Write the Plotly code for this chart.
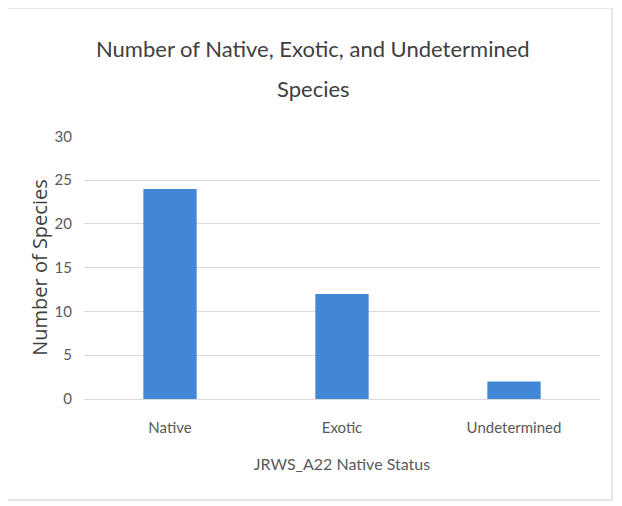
import plotly.graph_objects as go

categories = ["Native", "Exotic", "Undetermined"]
species_counts = [24, 12, 2]
y_ticks = [0, 5, 10, 15, 20, 25, 30]

FONT = "Lato, Liberation Sans, sans-serif"
GRAY = "#595959"

# the browser puts the page 8px in from the top-left corner
OFF = 8
W, H = 622 - OFF, 506 - OFF
ml, mr, mt, mb = 84 - OFF, 22, 136 - OFF, H - (399 - OFF)
pw, ph = W - ml - mr, H - mt - mb

def px_to_paper_x(px):
    return (px - OFF - ml) / pw

def px_to_paper_y(py):
    return (H - mb - (py - OFF)) / ph

fig = go.Figure(go.Bar(
    x=categories, y=species_counts,
    marker=dict(color="#4287d5", line=dict(width=0)),
    width=0.31,
))

fig.update_layout(
    width=W, height=H,
    margin=dict(l=ml, r=mr, t=mt, b=mb),
    paper_bgcolor="white", plot_bgcolor="white",
    showlegend=False,
    font=dict(family=FONT, color=GRAY),
    annotations=[
        dict(text="Number of Native, Exotic, and Undetermined", xref="paper", yref="paper",
             x=px_to_paper_x(313), y=px_to_paper_y(48),
             xanchor="center", yanchor="middle", showarrow=False,
             font=dict(size=22, color="#404040", family=FONT)),
        dict(text="Species", xref="paper", yref="paper",
             x=px_to_paper_x(313), y=px_to_paper_y(89),
             xanchor="center", yanchor="middle", showarrow=False,
             font=dict(size=22, color="#404040", family=FONT)),
    ],
    xaxis=dict(title=dict(text="JRWS_A22 Native Status", font=dict(size=16, color=GRAY), standoff=23),
               tickfont=dict(size=15, color=GRAY), showgrid=False, showline=False,
               ticks="", ticklen=0, ticklabelstandoff=18),
    yaxis=dict(title=dict(text="Number of Species",
                          font=dict(size=20, color="#404040", family="Open Sans, DejaVu Sans, sans-serif"),
                          standoff=1),
               range=[0, 30.05], tickvals=y_ticks, tickfont=dict(size=15, color=GRAY),
               showgrid=True, gridcolor="#d9d9d9", gridwidth=1, zeroline=True,
               zerolinecolor="#d9d9d9", zerolinewidth=1, showline=False, ticks="",
               ticklabelstandoff=11),
    shapes=[dict(type="rect", xref="paper", yref="paper",
                 x0=px_to_paper_x(5), x1=px_to_paper_x(612),
                 y0=px_to_paper_y(500), y1=px_to_paper_y(8),
                 line=dict(color="#d0d0d0", width=1), layer="below")],
)

fig.write_html("out.html")
